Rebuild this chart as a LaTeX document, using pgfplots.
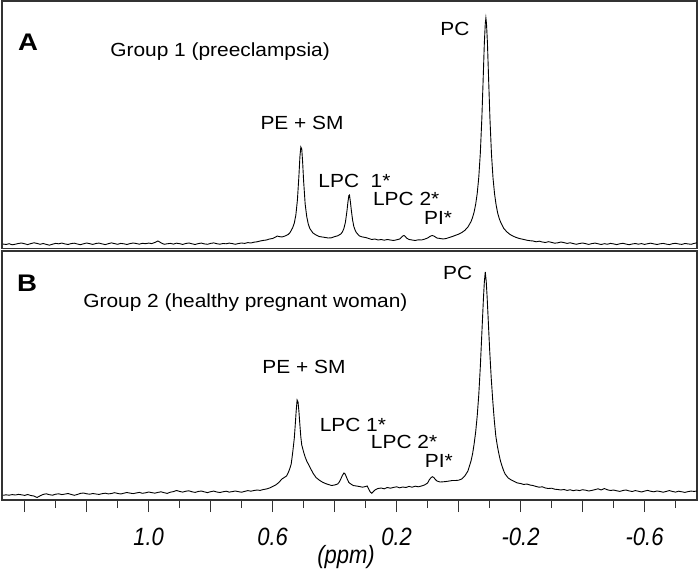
\documentclass[border=0pt]{standalone}
\usepackage{fontspec}
\setmainfont{Liberation Sans}
\newfontfamily\lblfont[FakeStretch=1.1]{Liberation Sans}
\newfontfamily\pnlfont[FakeStretch=1.15]{Liberation Sans}
\newfontfamily\tickfam[FakeStretch=0.88]{Liberation Sans}
\usepackage{pgfplots}
\usepackage{pgfplotstable}
\pgfplotsset{compat=1.18}
\newcommand\lbl{\lblfont\fontsize{19bp}{21bp}\selectfont}
\newcommand\pnl{\pnlfont\bfseries\fontsize{24bp}{26bp}\selectfont}
\newcommand\tck{\tickfam\fontsize{25bp}{27bp}\selectfont\itshape}

\pgfplotstableread{
x y
1.47 0.0
1.46 -0.5
1.45 0.3
1.44 -0.8
1.43 -0.2
1.42 0.5
1.41 1.0
1.40 0.2
1.39 -0.6
1.38 0.4
1.37 1.2
1.36 0.6
1.35 -0.3
1.34 0.5
1.33 -0.4
1.32 -1.2
1.31 -0.2
1.30 0.6
1.29 0.2
1.28 0.9
1.27 0.1
1.26 -0.5
1.25 0.4
1.24 0.8
1.23 0.0
1.22 -0.7
1.21 0.2
1.20 1.0
1.19 0.3
1.18 -0.4
1.17 0.5
1.16 0.9
1.15 0.1
1.14 -0.6
1.13 0.3
1.12 1.1
1.11 0.4
1.10 -0.3
1.09 0.6
1.08 0.2
1.07 -0.5
1.06 0.4
1.05 1.0
1.04 0.5
1.03 -0.2
1.02 0.7
1.01 0.3
1.00 0.9
0.99 0.4
0.98 1.5
0.97 3.0
0.96 1.2
0.95 -0.3
0.94 0.2
0.93 0.6
0.92 -0.1
0.91 0.8
0.90 0.3
0.89 -0.4
0.88 0.5
0.87 1.0
0.86 0.2
0.85 -0.5
0.84 0.4
0.83 0.9
0.82 0.1
0.81 -0.3
0.80 0.6
0.79 1.1
0.78 0.3
0.77 -0.2
0.76 0.5
0.75 0.2
0.74 0.9
0.73 0.4
0.72 -0.3
0.71 0.5
0.70 1.0
0.69 0.6
0.68 1.4
0.67 1.0
0.66 1.8
0.65 2.2
0.64 3.0
0.63 3.6
0.62 4.0
0.61 5.0
0.60 5.5
0.59 7.0
0.585 8.0
0.58 7.5
0.57 7.0
0.56 8.0
0.55 9.5
0.545 11
0.54 13.5
0.535 16.5
0.53 21
0.525 29
0.52 44
0.515 69
0.512 87
0.509 97
0.506 95
0.503 81
0.50 63
0.495 40
0.49 27.5
0.485 20
0.48 15.5
0.47 11
0.46 9
0.45 7.5
0.44 7
0.43 6.5
0.42 6.0
0.41 6.2
0.40 7.4
0.39 8.2
0.38 10
0.375 12
0.37 15.5
0.365 22
0.36 33.5
0.357 42
0.354 48.5
0.352 49
0.349 42
0.346 33.5
0.342 24
0.338 17.5
0.334 14
0.33 11.5
0.32 8
0.31 7
0.30 6.5
0.29 5.5
0.28 4.5
0.27 5.0
0.26 4.0
0.25 4.5
0.24 3.8
0.23 4.5
0.22 4.0
0.21 3.5
0.20 4.2
0.19 5.0
0.185 6.5
0.18 8.0
0.176 8.5
0.172 7.5
0.168 6.0
0.16 4.5
0.15 4.0
0.14 3.5
0.13 4.2
0.12 4.0
0.11 4.8
0.10 6.0
0.095 7.0
0.09 8.0
0.085 8.5
0.08 8.0
0.075 7.0
0.07 6.0
0.06 5.5
0.05 5.0
0.04 5.5
0.03 6.5
0.02 7.5
0.01 8.7
0.0 9.8
-0.01 11.4
-0.02 13.6
-0.03 17
-0.04 22.4
-0.045 26.5
-0.05 32
-0.055 39.6
-0.06 50.5
-0.065 66.5
-0.07 90.6
-0.075 126
-0.079 163
-0.083 201
-0.086 220
-0.088 226
-0.090 220
-0.093 201
-0.097 163
-0.101 126
-0.106 90
-0.111 66
-0.116 50
-0.121 39
-0.126 31
-0.131 25.5
-0.136 21.5
-0.146 15.5
-0.156 12
-0.166 9.5
-0.176 7.8
-0.186 6.5
-0.196 5.5
-0.206 4.8
-0.22 3.8
-0.23 3.3
-0.24 3.0
-0.25 2.2
-0.26 2.8
-0.27 2.0
-0.28 1.5
-0.29 2.3
-0.30 1.6
-0.31 0.8
-0.32 1.2
-0.33 2.0
-0.34 1.4
-0.35 0.6
-0.36 1.2
-0.37 0.4
-0.38 -0.3
-0.39 0.5
-0.40 1.0
-0.41 0.3
-0.42 -0.4
-0.43 0.4
-0.44 0.9
-0.45 0.2
-0.46 -0.5
-0.47 0.3
-0.48 -0.2
-0.49 0.6
-0.50 0.1
-0.51 -0.6
-0.52 0.2
-0.53 0.7
-0.54 -0.1
-0.55 -0.7
-0.56 0.0
-0.57 0.5
-0.58 -0.2
-0.59 0.4
-0.60 -0.4
-0.61 0.3
-0.62 0.8
-0.63 0.1
-0.64 -0.5
-0.65 0.2
-0.66 0.6
-0.67 -0.1
-0.68 -0.6
-0.69 0.3
-0.70 0.7
-0.71 0.0
-0.72 -0.4
-0.73 0.5
-0.74 0.1
-0.75 -0.3
-0.76 0.6
-0.769 1.2
}\topdata

\pgfplotstableread{
x y
1.47 -0.3
1.46 0.2
1.45 -0.2
1.44 0.4
1.43 0.0
1.42 0.6
1.41 0.2
1.40 -0.4
1.39 0.5
1.38 -0.5
1.37 -1.0
1.36 -2.5
1.35 -0.8
1.34 0.6
1.33 1.2
1.32 0.3
1.31 -0.2
1.30 0.8
1.29 1.2
1.28 0.4
1.27 0.9
1.26 1.5
1.25 0.6
1.24 -0.3
1.23 0.5
1.22 1.6
1.21 2.0
1.20 1.2
1.19 0.8
1.18 1.5
1.17 1.0
1.16 0.6
1.15 1.3
1.14 1.8
1.13 1.1
1.12 1.5
1.11 2.3
1.10 1.6
1.09 1.0
1.08 1.8
1.07 2.5
1.06 1.9
1.05 1.4
1.04 2.0
1.03 2.6
1.02 1.7
1.01 2.2
1.00 3.0
0.99 2.4
0.98 1.8
0.97 2.6
0.96 3.2
0.95 2.3
0.94 1.6
0.93 2.8
0.92 3.4
0.91 4.5
0.90 3.6
0.89 2.9
0.88 3.8
0.87 4.2
0.86 3.2
0.85 2.6
0.84 3.5
0.83 4.0
0.82 3.1
0.81 2.4
0.80 3.3
0.79 3.9
0.78 3.0
0.77 2.5
0.76 3.2
0.75 3.8
0.74 2.9
0.73 3.4
0.72 4.0
0.71 3.3
0.70 2.8
0.69 3.6
0.68 4.4
0.67 3.8
0.66 4.5
0.65 5.0
0.64 4.6
0.63 5.5
0.62 6.0
0.61 7.0
0.60 8.5
0.59 10
0.58 12.5
0.57 16
0.56 18
0.555 19
0.55 22
0.545 26
0.54 31
0.535 43
0.53 57
0.527 70
0.524 84
0.521 95
0.518 93
0.515 83
0.512 70
0.509 58
0.506 50
0.50 43
0.495 38
0.49 34
0.485 31
0.48 28
0.475 25
0.47 22
0.46 17.5
0.45 15
0.44 13
0.43 11.5
0.42 10.5
0.41 9.5
0.40 10
0.39 11
0.385 13
0.38 16
0.375 19.5
0.37 22
0.366 21
0.362 18
0.358 15
0.354 12.5
0.35 11.5
0.345 10.5
0.34 9.5
0.33 9
0.32 8.5
0.31 7.8
0.30 8.5
0.295 9
0.29 6
0.285 3
0.28 1.7
0.275 3.5
0.27 5
0.26 6.5
0.25 7
0.24 6.2
0.23 7.5
0.22 6.8
0.21 7.6
0.20 8.2
0.19 7.2
0.18 8.0
0.17 7.5
0.16 8.6
0.15 7.8
0.14 8.8
0.13 8.2
0.12 9.0
0.11 10
0.10 12
0.095 15
0.09 17
0.085 18.3
0.08 17.5
0.075 15.5
0.07 14
0.06 13
0.05 13.2
0.04 13.5
0.03 14
0.02 14.5
0.01 14.5
0.0 14.8
-0.01 16
-0.02 19
-0.03 24
-0.035 29
-0.04 34
-0.045 41
-0.05 51
-0.055 63
-0.06 79
-0.065 100
-0.07 128
-0.075 162
-0.08 196
-0.083 213
-0.086 223
-0.089 214
-0.092 198
-0.096 172
-0.10 146
-0.105 118
-0.11 95
-0.115 75
-0.12 59
-0.125 49
-0.13 41
-0.135 34
-0.14 29
-0.145 24.5
-0.15 21
-0.16 17
-0.17 15
-0.18 13.5
-0.19 12
-0.20 11.5
-0.21 10.5
-0.22 11
-0.23 10
-0.24 9.5
-0.25 8.5
-0.26 7.8
-0.27 8.2
-0.28 7
-0.29 6.5
-0.30 6.8
-0.31 5.8
-0.32 5.5
-0.33 5.0
-0.34 5.5
-0.35 4.6
-0.36 5.2
-0.37 4.3
-0.38 5.0
-0.39 4.4
-0.40 5.3
-0.41 4.8
-0.42 4.0
-0.43 4.6
-0.44 5.4
-0.45 6.2
-0.46 5.0
-0.47 6.5
-0.48 5.2
-0.49 4.5
-0.50 5.0
-0.51 4.2
-0.52 3.6
-0.53 4.5
-0.54 5.0
-0.55 4.1
-0.56 3.5
-0.57 4.4
-0.58 3.8
-0.59 3.0
-0.60 3.9
-0.61 4.6
-0.62 3.7
-0.63 3.2
-0.64 4.0
-0.65 3.5
-0.66 2.8
-0.67 3.6
-0.68 4.4
-0.69 3.5
-0.70 2.9
-0.71 3.8
-0.72 3.2
-0.73 2.6
-0.74 3.4
-0.75 3.9
-0.76 3.6
-0.769 4.0
}\botdata

\begin{document}
\begin{tikzpicture}
\useasboundingbox (0,0) rectangle (700bp,569bp);
\pgfplotsset{
  spec/.style={
    scale only axis, width=695bp,
    xmin=-0.769, xmax=1.473, x dir=reverse,
    ytick=\empty,
    axis line style={draw=black!80, line width=1.2bp},
    clip mode=individual,
  },
}
% Top panel
\begin{axis}[spec, at={(2bp,320.5bp)}, anchor=south west, height=247.5bp,
  ymin=-4.5, ymax=243, xtick=\empty]
\addplot[black, line width=0.9bp] table[x=x, y=y] {\topdata};
\node[font=\pnl] at (axis cs:1.389,202) {A};
\node[font=\lbl, anchor=west] at (axis cs:1.135,192) {Group 1 (preeclampsia)};
\node[font=\lbl] at (axis cs:0.012,215) {PC};
\node[font=\lbl] at (axis cs:0.505,121) {PE + SM};
\node[font=\lbl] at (axis cs:0.336,63) {LPC\hspace{0.3em} 1*};
\node[font=\lbl] at (axis cs:0.169,45) {LPC 2*};
\node[font=\lbl] at (axis cs:0.066,26) {PI*};
\end{axis}
% Bottom panel
\begin{axis}[spec, at={(2bp,69bp)}, anchor=south west, height=249bp,
  ymin=-5, ymax=244,
  xtick={1.4,1.2,1.0,0.8,0.6,0.4,0.2,0,-0.2,-0.4,-0.6},
  xticklabels={,,1.0,,0.6,,0.2,,-0.2,,-0.6},
  minor xtick={1.3,1.1,0.9,0.7,0.5,0.3,0.1,-0.1,-0.3,-0.5,-0.7},
  xtick pos=bottom, tick align=outside,
  major tick length=12bp, minor tick length=8bp,
  every tick/.style={black!80, line width=1.0bp},
  xticklabel style={font=\tck, yshift=-13bp},
]
\addplot[black, line width=0.9bp] table[x=x, y=y] {\botdata};
\node[font=\pnl] at (axis cs:1.392,212) {B};
\node[font=\lbl, anchor=west] at (axis cs:1.222,192) {Group 2 (healthy pregnant woman)};
\node[font=\lbl] at (axis cs:0.003,222) {PC};
\node[font=\lbl] at (axis cs:0.499,128) {PE + SM};
\node[font=\lbl] at (axis cs:0.341,70) {LPC 1*};
\node[font=\lbl] at (axis cs:0.176,53) {LPC 2*};
\node[font=\lbl] at (axis cs:0.064,34) {PI*};
\node[font=\tck] at (axis cs:0.363,-62) {(ppm)};
\end{axis}
\end{tikzpicture}
\end{document}
